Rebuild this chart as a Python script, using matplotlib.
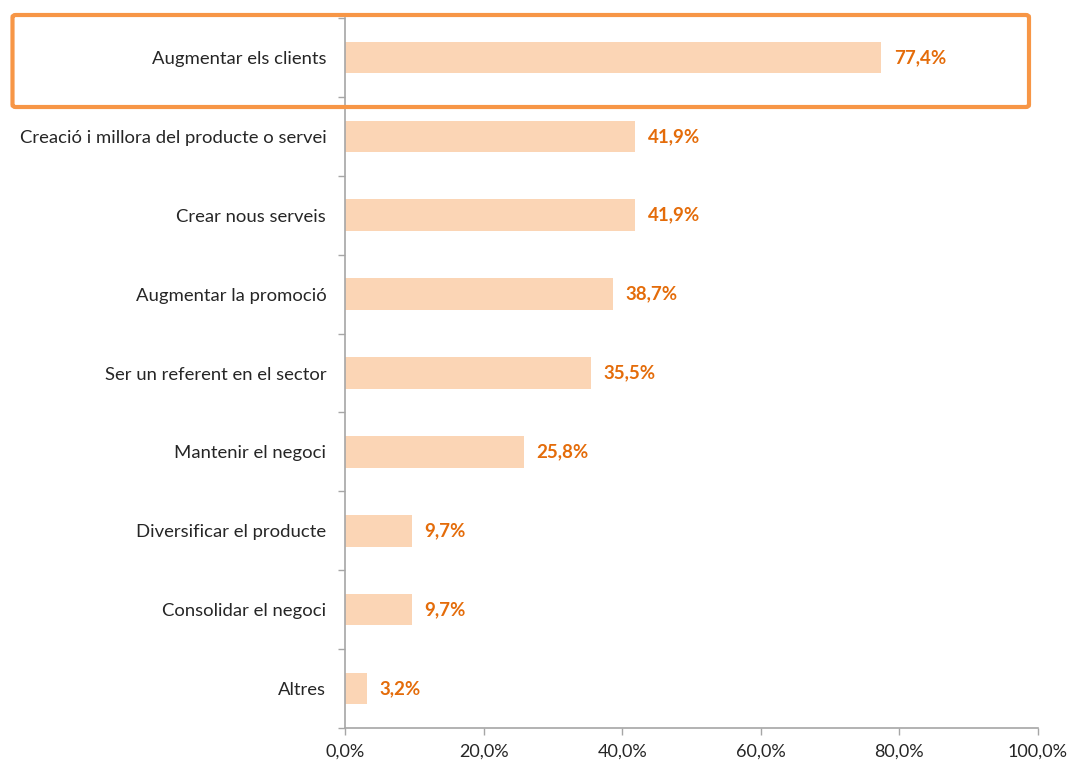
import matplotlib.pyplot as plt
from matplotlib.patches import FancyBboxPatch
from matplotlib.ticker import FixedLocator, FuncFormatter

categories = [
    "Augmentar els clients",
    "Creació i millora del producte o servei",
    "Crear nous serveis",
    "Augmentar la promoció",
    "Ser un referent en el sector",
    "Mantenir el negoci",
    "Diversificar el producte",
    "Consolidar el negoci",
    "Altres",
]
values = [77.4, 41.9, 41.9, 38.7, 35.5, 25.8, 9.7, 9.7, 3.2]
x_ticks = [0, 20, 40, 60, 80, 100]

bar_color = "#FBD5B5"
label_color = "#E46C0A"
frame_color = "#F79646"
axis_color = "#A6A6A6"
text_color = "#262626"

plt.rcParams["font.family"] = ["Lato", "DejaVu Sans"]

fig = plt.figure(figsize=(10.71, 7.6), dpi=100)
ax = fig.add_axes([345 / 1071, 32 / 760, 693 / 1071, 710 / 760])

n = len(categories)
ypos = list(range(n))
ax.barh(ypos, values, height=0.4, color=bar_color)
ax.set_ylim(n - 0.5, -0.5)
ax.set_xlim(0, 100)

# value labels to the right of each bar
for y, v in zip(ypos, values):
    ax.text(v + 1.8, y, f"{v:.1f}%".replace(".", ","), va="center", ha="left",
            color=label_color, fontsize=13.5, fontweight="bold")

# axis styling
for side in ["top", "right"]:
    ax.spines[side].set_visible(False)
for side in ["left", "bottom"]:
    ax.spines[side].set_color(axis_color)
    ax.spines[side].set_linewidth(1.2)

ax.set_yticks(ypos)
ax.set_yticklabels(categories, fontsize=13.3, color=text_color)
ax.yaxis.set_minor_locator(FixedLocator([i - 0.5 for i in range(n + 1)]))
ax.tick_params(axis="y", which="major", length=0, pad=13.5)
ax.tick_params(axis="y", which="minor", length=5, width=1, color=axis_color)

ax.set_xticks(x_ticks)
ax.xaxis.set_major_formatter(FuncFormatter(lambda v, _: f"{v:.1f}%".replace(".", ",")))
ax.tick_params(axis="x", length=5, width=1, color=axis_color, labelsize=13,
               labelcolor=text_color, pad=6)

# highlight box around the top category
box = FancyBboxPatch((12.5 / 1071, 1 - 107 / 760), (1029 - 12.5) / 1071, 92 / 760,
                     boxstyle="round,pad=0,rounding_size=0.003",
                     transform=fig.transFigure, fill=False,
                     edgecolor=frame_color, linewidth=3, zorder=10)
fig.patches.append(box)

fig.savefig("out.png", dpi=100)
